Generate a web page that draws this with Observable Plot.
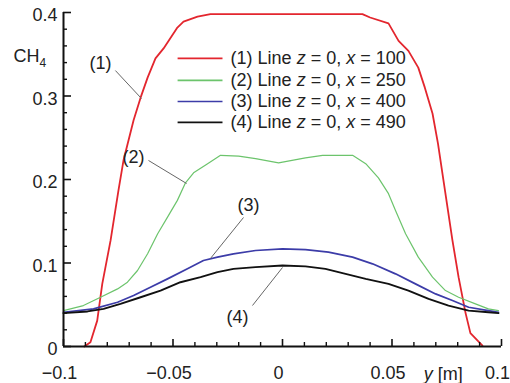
<!DOCTYPE html>
<html>
<head>
<meta charset="utf-8">
<script src="https://cdn.jsdelivr.net/npm/d3@7"></script>
<script src="https://cdn.jsdelivr.net/npm/@observablehq/plot@0.6"></script>
<style>
  html, body { margin: 0; padding: 0; background: #fff; }
  #chart { width: 510px; height: 383px; overflow: hidden; }
</style>
</head>
<body>
<div id="chart"></div>
<script>
// ---- data ----
const seriesNames = ["(1) Line z = 0, x = 100", "(2) Line z = 0, x = 250", "(3) Line z = 0, x = 400", "(4) Line z = 0, x = 490"];
const seriesColors = ["#e3262e", "#6cc46c", "#3c3ca8", "#111111"];
const seriesWidths = [1.8, 1.2, 1.7, 1.9];

const x1 = [-0.0905,-0.0877,-0.0846,-0.0823,-0.0785,-0.0749,-0.0726,-0.068,-0.0648,-0.0616,-0.058,-0.0543,-0.048,-0.0452,-0.0388,-0.0329,0.0365,0.040,0.0484,0.053,0.0575,0.062,0.065,0.0685,0.071,0.0735,0.0776,0.0804,0.0836,0.0858,0.0913];
const y1 = [0,0.005,0.031,0.075,0.127,0.187,0.223,0.271,0.298,0.322,0.345,0.357,0.382,0.389,0.395,0.398,0.398,0.394,0.387,0.366,0.354,0.334,0.310,0.279,0.243,0.199,0.127,0.083,0.040,0.016,0.001];

const x2 = [-0.1,-0.0909,-0.0831,-0.0753,-0.0708,-0.0662,-0.0616,-0.057,-0.0525,-0.048,-0.0443,-0.0406,-0.0342,-0.0283,-0.02,-0.0123,-0.0018,0.0105,0.0183,0.032,0.038,0.0438,0.0484,0.0516,0.0562,0.062,0.0685,0.0744,0.0804,0.0881,0.094,0.0986];
const y2 = [0.043,0.049,0.059,0.069,0.077,0.091,0.111,0.135,0.155,0.175,0.196,0.208,0.219,0.229,0.228,0.225,0.220,0.226,0.229,0.229,0.219,0.202,0.183,0.163,0.135,0.107,0.083,0.067,0.059,0.051,0.045,0.043];

const x3 = [-0.1,-0.0863,-0.0753,-0.068,-0.0603,-0.0525,-0.0434,-0.0361,-0.0297,-0.0224,-0.0123,0,0.0105,0.021,0.032,0.0411,0.0516,0.0607,0.0699,0.0776,0.085,0.094,0.0986];
const y3 = [0.041,0.045,0.053,0.061,0.071,0.081,0.093,0.103,0.107,0.111,0.115,0.117,0.116,0.113,0.107,0.099,0.087,0.075,0.063,0.055,0.047,0.043,0.041];

const x4 = [-0.1,-0.089,-0.0817,-0.074,-0.0648,-0.0557,-0.0466,-0.0374,-0.0297,-0.0224,-0.0123,0,0.0105,0.0196,0.0288,0.038,0.0484,0.0575,0.0667,0.0758,0.085,0.094,0.0986];
const y4 = [0.040,0.042,0.045,0.051,0.059,0.067,0.077,0.083,0.089,0.093,0.095,0.097,0.096,0.093,0.087,0.081,0.075,0.067,0.057,0.049,0.043,0.041,0.040];

const xMajor = [-0.1, -0.05, 0, 0.05, 0.1];
const xMinor = d3.range(-10, 11).map(i => i / 100).filter(v => !xMajor.some(m => Math.abs(m - v) < 1e-9));
const yMajor = [0, 0.1, 0.2, 0.3, 0.4];
const yMinor = d3.range(0, 21).map(i => i / 50).filter(v => !yMajor.some(m => Math.abs(m - v) < 1e-9));

const yLabel = "CH4";
const xLabel = "y [m]";

// annotation labels + leader lines (data coordinates)
const annLabels = ["(1)", "(2)", "(3)", "(4)"];
const annX = [-0.0831, -0.068, -0.0155, -0.0205];
const annY = [0.339, 0.2263, 0.1689, 0.0347];
const leadX1 = [-0.0763, -0.0612, -0.0178, -0.0137];
const leadY1 = [0.3305, 0.2228, 0.1545, 0.0491];
const leadX2 = [-0.0644, -0.0438, -0.0329, 0.0000];
const leadY2 = [0.297, 0.1952, 0.1054, 0.0946];

// legend layout (data coordinates)
const legLineX1 = -0.0479, legLineX2 = -0.0274, legTextX = -0.0237;
const legY = [0.345, 0.3186, 0.2934, 0.2683];

// ---- build tables ----
const xs = [x1, x2, x3, x4], ys = [y1, y2, y3, y4];
const curves = seriesNames.map((name, i) => xs[i].map((x, j) => ({x, y: ys[i][j], name})));
const legend = seriesNames.map((name, i) => ({name, y: legY[i], color: seriesColors[i]}));
const ann = annLabels.map((t, i) => ({t, x: annX[i], y: annY[i], x1: leadX1[i], y1: leadY1[i], x2: leadX2[i], y2: leadY2[i]}));

const fmt = d => d === 0 ? "0" : (d < 0 ? "\u2212" : "") + String(Math.abs(d));

const chart = Plot.plot({
  width: 510,
  height: 383,
  marginLeft: 63,
  marginRight: 9,
  marginTop: 12,
  marginBottom: 37,
  style: {fontFamily: "'Liberation Sans', Arial, Helvetica, sans-serif", fontSize: "18px", color: "#222", background: "#fff", overflow: "visible"},
  x: {domain: [-0.1, 0.1]},
  y: {domain: [0, 0.4]},
  marks: [
    // curves
    ...curves.map((c, i) => Plot.line(c, {x: "x", y: "y", stroke: seriesColors[i], strokeWidth: seriesWidths[i], curve: "linear"})),
    // axis lines
    Plot.ruleX([-0.1], {stroke: "#111", strokeWidth: 2}),
    Plot.ruleY([0], {stroke: "#111", strokeWidth: 2}),
    // inward ticks
    Plot.tickX(xMajor, {x: d => d, stroke: "#111", strokeWidth: 1.6, insetTop: 327}),
    Plot.tickX(xMinor, {x: d => d, stroke: "#111", strokeWidth: 1.4, insetTop: 330}),
    Plot.tickY(yMajor, {y: d => d, stroke: "#111", strokeWidth: 1.6, insetRight: 430}),
    Plot.tickY(yMinor, {y: d => d, stroke: "#111", strokeWidth: 1.4, insetRight: 434}),
    // axis labels
    Plot.axisX(xMajor, {tickSize: 0, tickPadding: 20, dx: -4, tickFormat: fmt, label: null, fontSize: 18}),
    Plot.axisY(yMajor, {tickSize: 0, tickPadding: 6, dy: 3, tickFormat: fmt, label: null, fontSize: 18}),
    Plot.text([xLabel], {x: 0.0645, y: 0, dy: 28, text: d => d, textAnchor: "start", fontSize: 18}),
    Plot.text([yLabel], {x: -0.1, y: 0.348, dx: -50, text: d => d, textAnchor: "start", fontSize: 18}),
    // legend
    Plot.link(legend, {x1: legLineX1, x2: legLineX2, y1: "y", y2: "y", stroke: "color", strokeWidth: 1.7}),
    Plot.text(legend, {x: legTextX, y: "y", text: "name", textAnchor: "start", fontSize: 18}),
    // annotations
    Plot.link(ann, {x1: "x1", y1: "y1", x2: "x2", y2: "y2", stroke: "#666", strokeWidth: 1}),
    Plot.text(ann, {x: "x", y: "y", text: "t", fontSize: 18})
  ]
});

// rich text: italics and subscript
chart.querySelectorAll("text").forEach(el => {
  const s = el.textContent;
  const ns = "http://www.w3.org/2000/svg";
  const m = s.match(/^(\(\d\) Line )z( = 0, )x( = \d+)$/);
  if (m) {
    el.textContent = "";
    const parts = [[m[1], false], ["z", true], [m[2], false], ["x", true], [m[3], false]];
    parts.forEach(([t, it]) => {
      const ts = document.createElementNS(ns, "tspan");
      ts.textContent = t;
      if (it) ts.setAttribute("font-style", "italic");
      el.appendChild(ts);
    });
  } else if (s === "CH4") {
    el.textContent = "CH";
    const ts = document.createElementNS(ns, "tspan");
    ts.textContent = "4";
    ts.setAttribute("font-size", "12");
    ts.setAttribute("dy", "5");
    el.appendChild(ts);
  } else if (s === "y [m]") {
    el.textContent = "";
    const a = document.createElementNS(ns, "tspan");
    a.textContent = "y";
    a.setAttribute("font-style", "italic");
    const b = document.createElementNS(ns, "tspan");
    b.textContent = " [m]";
    el.appendChild(a); el.appendChild(b);
  }
});

document.getElementById("chart").appendChild(chart);
</script>
</body>
</html>
